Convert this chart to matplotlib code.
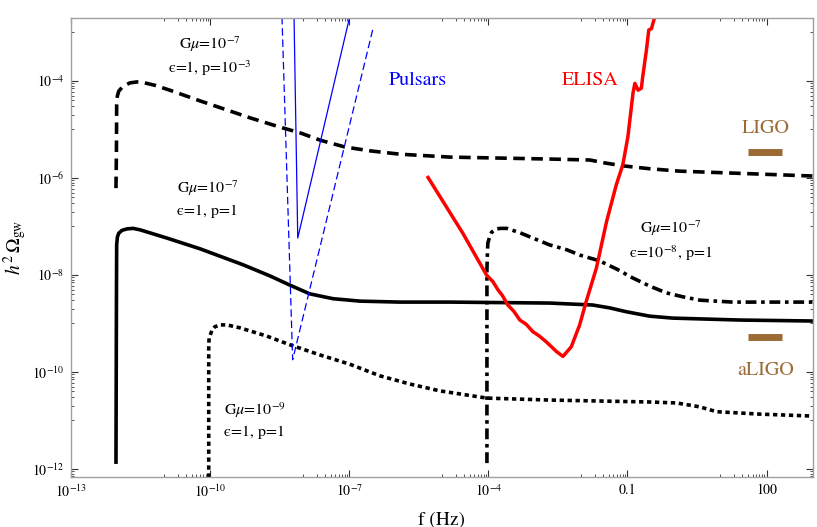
import numpy as np
import matplotlib
matplotlib.use("Agg")
import matplotlib.pyplot as plt
from matplotlib.ticker import FixedLocator, FixedFormatter, NullFormatter

plt.rcParams["font.family"] = ["STIXGeneral", "DejaVu Serif"]
plt.rcParams["mathtext.fontset"] = "stix"

# curves as log10(f), log10(h^2 Omega)
# G mu = 1e-7, eps = 1, p = 1e-3 (dashed)
p3_lx = [-12.03, -12.02, -12.015, -12.00, -11.97, -11.88, -11.73, -11.58, -11.41,
         -11.19, -10.87, -10.22, -9.57, -9.14, -8.50, -8.06, -7.63, -7.10, -6.56,
         -5.91, -4.83, -2.68, -1.81, -1.49, -1.10, -0.52, 0.13, 1.27, 2.99]
p3_ly = [-6.21, -5.42, -4.49, -4.31, -4.21, -4.11, -4.04, -4.02, -4.04,
         -4.09, -4.19, -4.41, -4.62, -4.76, -4.95, -5.07, -5.22, -5.36, -5.44,
         -5.51, -5.57, -5.61, -5.63, -5.69, -5.75, -5.81, -5.86, -5.90, -5.96]

# G mu = 1e-7, eps = 1, p = 1 (solid)
p1_lx = [-12.03, -12.02, -12.015, -12.00, -11.97, -11.90, -11.79, -11.66, -11.51,
         -10.93, -10.22, -9.29, -8.71, -8.28, -7.85, -7.35, -6.77, -5.91, -4.83,
         -2.68, -1.75, -1.38, -1.02, -0.52, -0.03, 1.42, 2.99]
p1_ly = [-11.86, -8.52, -7.38, -7.22, -7.14, -7.08, -7.05, -7.04, -7.07,
         -7.24, -7.46, -7.79, -8.02, -8.21, -8.39, -8.49, -8.54, -8.56, -8.56,
         -8.58, -8.62, -8.68, -8.76, -8.85, -8.89, -8.93, -8.95]

# G mu = 1e-9, eps = 1, p = 1 (dotted)
g9_lx = [-10.03, -10.03, -10.02, -9.99, -9.96, -9.90, -9.79, -9.64, -9.36,
         -8.78, -8.28, -7.63, -6.99, -6.34, -5.69, -5.05, -4.03, -2.68, -1.60,
         -0.52, 0.06, 0.56, 0.92, 1.85, 2.99]
g9_ly = [-13.0, -9.44, -9.30, -9.22, -9.14, -9.07, -9.03, -9.03, -9.09,
         -9.26, -9.44, -9.65, -9.84, -10.08, -10.25, -10.39, -10.54, -10.58, -10.60,
         -10.62, -10.64, -10.72, -10.82, -10.87, -10.91]

# G mu = 1e-7, eps = 1e-8, p = 1 (dash-dot)
e8_lx = [-4.03, -4.03, -4.02, -4.01, -3.97, -3.93, -3.83, -3.73, -3.60, -3.32,
         -2.68, -2.31, -2.03, -1.60, -1.23, -0.89, -0.52, -0.16, 0.19, 0.56,
         1.27, 2.99]
e8_ly = [-11.88, -7.90, -7.55, -7.34, -7.21, -7.12, -7.05, -7.04, -7.04, -7.13,
         -7.38, -7.48, -7.59, -7.71, -7.88, -8.06, -8.23, -8.37, -8.45, -8.52,
         -8.56, -8.56]

elisa_lx = [-5.30, -4.55, -4.04, -3.90, -3.79, -3.70, -3.58, -3.45, -3.32, -3.18,
            -3.04, -2.90, -2.75, -2.53, -2.39, -2.21, -2.03, -1.89, -1.67, -1.45,
            -1.24, -1.10, -0.99, -0.88, -0.84, -0.77, -0.70, -0.67, -0.59, -0.54,
            -0.48, -0.45, -0.41]
elisa_ly = [-5.99, -7.14, -8.00, -8.14, -8.31, -8.42, -8.62, -8.75, -8.93, -9.02,
            -9.17, -9.26, -9.38, -9.58, -9.68, -9.48, -9.03, -8.55, -7.86, -6.90,
            -6.14, -5.73, -5.15, -4.25, -4.05, -4.19, -4.15, -3.91, -3.36, -2.95,
            -2.92, -2.81, -2.68]

puls_solid_lx = [-8.19, -8.11, -6.99]
puls_solid_ly = [-2.68, -7.24, -2.68]
puls_dash_lx = [-8.45, -8.22, -6.49]
puls_dash_ly = [-2.68, -9.75, -2.93]

ligo_lf = [1.59, 2.34]
ligo_ly = -5.46
aligo_ly = -9.28

xmajor = [1e-13, 1e-10, 1e-7, 1e-4, 0.1, 100]
xlabels = [r"$10^{-13}$", r"$10^{-10}$", r"$10^{-7}$", r"$10^{-4}$", "0.1", "100"]
ymajor = [1e-12, 1e-10, 1e-8, 1e-6, 1e-4, 1e-2]
ylabels = [r"$10^{-12}$", r"$10^{-10}$", r"$10^{-8}$", r"$10^{-6}$", r"$10^{-4}$", r"$10^{-2}$"]

brown = "#9b6a35"


def pw(a):
    return 10 ** np.asarray(a, dtype=float)


fig = plt.figure(figsize=(8.17, 5.27), dpi=100)
ax = fig.add_axes([0.0869, 0.0955, 0.9081, 0.8705])

ax.plot(pw(p3_lx), pw(p3_ly), color="black", lw=2.6, ls=(0, (3.2, 1.8)))
ax.plot(pw(p1_lx), pw(p1_ly), color="black", lw=2.6)
ax.plot(pw(g9_lx), pw(g9_ly), color="black", lw=2.6, ls=(0, (1.2, 1.0)))
ax.plot(pw(e8_lx), pw(e8_ly), color="black", lw=2.6, ls=(0, (3.0, 1.3, 1.0, 1.3)))
ax.plot(pw(elisa_lx), pw(elisa_ly), color="red", lw=2.5, solid_joinstyle="round")
ax.plot(pw(puls_solid_lx), pw(puls_solid_ly), color="blue", lw=0.9)
ax.plot(pw(puls_dash_lx), pw(puls_dash_ly), color="blue", lw=0.9, ls=(0, (6, 3)))
ax.plot(pw(ligo_lf), pw([ligo_ly, ligo_ly]), color=brown, lw=5, solid_capstyle="butt")
ax.plot(pw(ligo_lf), pw([aligo_ly, aligo_ly]), color=brown, lw=5, solid_capstyle="butt")

ax.set_xscale("log")
ax.set_yscale("log")
ax.set_xlim(1e-13, 1e3)
ax.set_ylim(10 ** -12.16, 10 ** -2.7)

# Mathematica-style: minor ticks only in the decade below each labelled one
xminor = [m * v / 10 for v in xmajor for m in range(1, 10)]
yminor = [m * v / 10 for v in ymajor for m in range(1, 10)]
ax.xaxis.set_major_locator(FixedLocator(xmajor))
ax.xaxis.set_major_formatter(FixedFormatter(xlabels))
ax.xaxis.set_minor_locator(FixedLocator(xminor))
ax.xaxis.set_minor_formatter(NullFormatter())
ax.yaxis.set_major_locator(FixedLocator(ymajor))
ax.yaxis.set_major_formatter(FixedFormatter(ylabels))
ax.yaxis.set_minor_locator(FixedLocator(yminor))
ax.yaxis.set_minor_formatter(NullFormatter())

ax.tick_params(which="both", direction="in", top=True, right=True,
               color="#333333", labelsize=10, pad=5)
ax.tick_params(which="major", length=5, width=0.8)
ax.tick_params(which="minor", length=2.5, width=0.6)
for s in ax.spines.values():
    s.set_color("#a0a0a0")
    s.set_linewidth(1.0)

ax.set_xlabel("f (Hz)", fontsize=14, labelpad=8)
ax.set_ylabel(r"$h^2\,\Omega_{\rm gw}$", fontsize=14, labelpad=2)

lbl = dict(fontsize=11.5, ha="center", va="center")
ax.text(10 ** -10.0, 10 ** -3.25, r"G$\mu$=10$^{-7}$", **lbl)
ax.text(10 ** -10.0, 10 ** -3.74, "ϵ=1, p=10$^{-3}$", **lbl)
ax.text(10 ** -10.05, 10 ** -6.22, r"G$\mu$=10$^{-7}$", **lbl)
ax.text(10 ** -10.05, 10 ** -6.69, "ϵ=1, p=1", **lbl)
ax.text(10 ** -9.7, 10 ** -10.78, r"G$\mu$=10$^{-9}$", fontsize=11.5, ha="left", va="center")
ax.text(10 ** -9.7, 10 ** -11.25, "ϵ=1, p=1", fontsize=11.5, ha="left", va="center")
ax.text(10 ** -0.06, 10 ** -7.04, r"G$\mu$=10$^{-7}$", **lbl)
ax.text(10 ** -0.06, 10 ** -7.55, "ϵ=10$^{-8}$, p=1", **lbl)

big = dict(fontsize=14.5, ha="center", va="center")
ax.text(10 ** -5.52, 10 ** -3.98, "Pulsars", color="blue", **big)
ax.text(10 ** -1.81, 10 ** -3.98, "ELISA", color="red", **big)
ax.text(10 ** 1.98, 10 ** -4.97, "LIGO", color=brown, **big)
ax.text(10 ** 1.98, 10 ** -9.96, "aLIGO", color=brown, **big)

fig.savefig("out.png", dpi=100)
